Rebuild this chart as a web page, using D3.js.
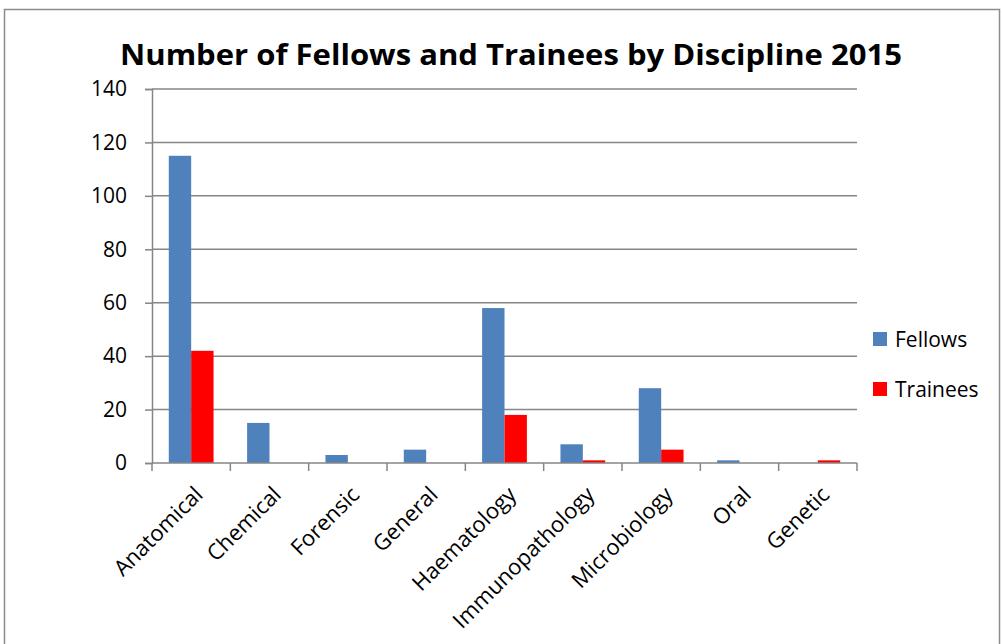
<!DOCTYPE html>
<html>
<head>
<meta charset="utf-8">
<script src="https://cdn.jsdelivr.net/npm/d3@7"></script>
<style>
  html, body { margin: 0; padding: 0; background: #fff; }
  svg { display: block; }
  text { font-family: "Open Sans", "Noto Sans", sans-serif; fill: #000; }
</style>
</head>
<body>
<svg id="chart" width="1002" height="644"></svg>
<script>
// Discipline categories and head counts for 2015
const categories = ["Anatomical", "Chemical", "Forensic", "General", "Haematology",
                    "Immunopathology", "Microbiology", "Oral", "Genetic"];
const fellows  = [115, 15, 3, 5, 58, 7, 28, 1, 0];
const trainees = [42, 0, 0, 0, 18, 1, 5, 0, 1];
const seriesNames = ["Fellows", "Trainees"];
const seriesColors = ["#4F81BD", "#FF0000"];
const yTicks = [0, 20, 40, 60, 80, 100, 120, 140];

const svg = d3.select("#chart");

// outer frame
svg.append("rect")
  .attr("x", 4.5).attr("y", 9.5).attr("width", 995).attr("height", 700)
  .attr("fill", "none").attr("stroke", "#8c8c8c").attr("stroke-width", 1.5);

const plot = { left: 152, right: 857, top: 89, bottom: 463 };

const x = d3.scaleBand().domain(categories).range([plot.left, plot.right]);
// gap between groups is 1.5 bar widths
const barW = x.bandwidth() / 3.5;
const x1 = d3.scaleBand().domain(seriesNames)
  .range([barW * 0.75, barW * 2.75]).padding(0);
const y = d3.scaleLinear().domain([0, 140]).range([plot.bottom, plot.top]);

// horizontal gridlines
svg.append("g").selectAll("line").data(yTicks.filter(d => d > 0)).join("line")
  .attr("x1", plot.left).attr("x2", plot.right)
  .attr("y1", d => y(d)).attr("y2", d => y(d))
  .attr("stroke", "#868686").attr("stroke-width", 1.5);

// bars
const rows = categories.map((c, i) => ({ cat: c, values: [fellows[i], trainees[i]] }));
const groups = svg.append("g").selectAll("g").data(rows).join("g")
  .attr("transform", d => `translate(${x(d.cat)},0)`);
groups.selectAll("rect")
  .data(d => d.values.map((v, j) => ({ name: seriesNames[j], v, color: seriesColors[j] })))
  .join("rect")
  .attr("x", d => x1(d.name))
  .attr("width", x1.bandwidth())
  .attr("y", d => y(d.v))
  .attr("height", d => y(0) - y(d.v))
  .attr("fill", d => d.color);

// y axis
const yAxis = d3.axisLeft(y).tickValues(yTicks).tickSize(7).tickPadding(18);
const gy = svg.append("g").attr("transform", `translate(${plot.left},0)`).call(yAxis);
gy.select(".domain").attr("stroke", "#868686").attr("stroke-width", 1.5);
gy.selectAll(".tick line").attr("stroke", "#868686").attr("stroke-width", 1.5);
gy.selectAll(".tick text")
  .style("font-family", "'Open Sans', sans-serif")
  .attr("font-size", 21).attr("fill", "#000");

// x axis: baseline plus boundary ticks between categories
svg.append("line")
  .attr("x1", plot.left).attr("x2", plot.right)
  .attr("y1", y(0)).attr("y2", y(0))
  .attr("stroke", "#868686").attr("stroke-width", 1.5);
const bounds = categories.map(c => x(c)).concat([plot.right]);
svg.append("g").selectAll("line").data(bounds).join("line")
  .attr("x1", d => d).attr("x2", d => d)
  .attr("y1", y(0)).attr("y2", y(0) + 8)
  .attr("stroke", "#868686").attr("stroke-width", 1.5);

// rotated category labels
svg.append("g").selectAll("text").data(categories).join("text")
  .attr("transform", d => `translate(${x(d) + x.bandwidth() / 2 + 13},${y(0) + 33}) rotate(-45)`)
  .attr("text-anchor", "end")
  .attr("font-size", 22)
  .text(d => d);

// title
svg.append("text")
  .attr("x", 511).attr("y", 65)
  .attr("text-anchor", "middle")
  .attr("font-size", 29).attr("font-weight", "bold")
  .attr("textLength", 782).attr("lengthAdjust", "spacingAndGlyphs")
  .text("Number of Fellows and Trainees by Discipline 2015");

// legend
const legend = svg.append("g").selectAll("g").data(seriesNames).join("g")
  .attr("transform", (d, i) => `translate(873,${332 + i * 50})`);
legend.append("rect").attr("width", 14).attr("height", 14)
  .attr("fill", (d, i) => seriesColors[i]);
legend.append("text").attr("x", 22).attr("y", 15)
  .attr("font-size", 21).text(d => d);
</script>
</body>
</html>
